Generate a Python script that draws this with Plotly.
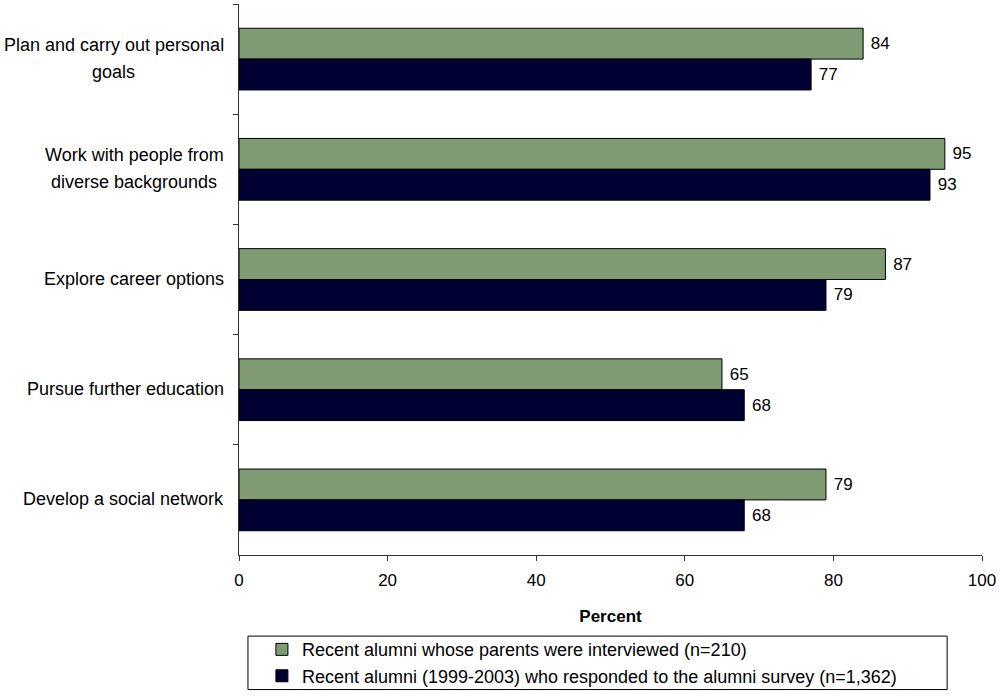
import plotly.graph_objects as go

categories = [
    "Plan and carry out personal<br>goals",
    "Work with people from<br>diverse backgrounds",
    "Explore career options",
    "Pursue further education",
    "Develop a social network",
]
series_names = [
    "Recent alumni whose parents were interviewed (n=210)",
    "Recent alumni (1999-2003) who responded to the alumni survey (n=1,362)",
]
parents_interviewed = [84, 95, 87, 65, 79]
survey_responders = [77, 93, 79, 68, 68]
x_ticks = [0, 20, 40, 60, 80, 100]

FONT = "Liberation Sans, Arial, sans-serif"
GREEN = "#7F9B73"
NAVY = "#000033"

# plot-area geometry (pixels)
L, R, T, B = 239, 15, 4, 137
W, H = 1000, 698
PW = W - L - R
PH = H - T - B

fig = go.Figure()
for name, vals, col in [
    (series_names[0], parents_interviewed, GREEN),
    (series_names[1], survey_responders, NAVY),
]:
    fig.add_trace(go.Bar(
        y=categories, x=vals, name=name, orientation="h",
        marker=dict(color=col, line=dict(color="black", width=1)),
        text=[str(v) for v in vals], textposition="outside",
        texttemplate="&nbsp;%{text}",
        textfont=dict(family=FONT, size=17, color="black"),
        cliponaxis=False, hoverinfo="skip",
    ))

def px_to_paper_x(px):
    return (px - L) / PW

def px_to_paper_y(py):
    return (H - B - py) / PH

# category labels (centered multi-line, right aligned block)
centers_px = [113, 134, None, None, None]
annotations = []
for i, cat in enumerate(categories):
    lines = cat.split("<br>")
    n = len(lines)
    for j, line in enumerate(lines):
        shift = ((n - 1) / 2 - j) * 27 + 1
        if n > 1:
            ax, anchor = px_to_paper_x(centers_px[i]), "center"
        else:
            ax, anchor = px_to_paper_x(226), "right"
        annotations.append(dict(
            x=ax, xref="paper", y=cat, yref="y", text=line,
            xanchor=anchor, yanchor="middle", yshift=shift, showarrow=False,
            font=dict(family=FONT, size=18, color="black"),
        ))

fig.update_layout(
    width=W, height=H,
    margin=dict(l=L, r=R, t=T, b=B, pad=0),
    barmode="group", bargap=0.44, bargroupgap=0,
    plot_bgcolor="white", paper_bgcolor="white",
    font=dict(family=FONT, size=17, color="black"),
    showlegend=True,
    legend=dict(
        x=px_to_paper_x(262), y=px_to_paper_y(638), xanchor="left", yanchor="top",
        bgcolor="rgba(0,0,0,0)", borderwidth=0, traceorder="normal",
        font=dict(family=FONT, size=18, color="black"),
        tracegroupgap=0,
    ),
    xaxis=dict(
        range=[0, 100], tickvals=x_ticks, ticktext=[str(t) for t in x_ticks],
        ticks="outside", ticklen=5, tickcolor="#333", showline=True, linecolor="#333",
        linewidth=1, showgrid=False, zeroline=False, ticklabelstandoff=5,
        tickfont=dict(family=FONT, size=17, color="black"),
        title=dict(text="<b>Percent</b>", standoff=20,
                   font=dict(family=FONT, size=17, color="black")),
    ),
    yaxis=dict(
        type="category", range=[4.5, -0.5], showticklabels=False,
        ticks="outside", tickson="boundaries", ticklen=5, tickcolor="#333",
        showline=True, linecolor="#333", linewidth=1, showgrid=False, zeroline=False,
    ),
    annotations=annotations,
    shapes=[dict(
        type="rect", xref="paper", yref="paper",
        x0=px_to_paper_x(248), x1=px_to_paper_x(950),
        y0=px_to_paper_y(643), y1=px_to_paper_y(697),
        line=dict(color="black", width=1), fillcolor="rgba(0,0,0,0)",
    )],
)

fig.write_html("out.html")
